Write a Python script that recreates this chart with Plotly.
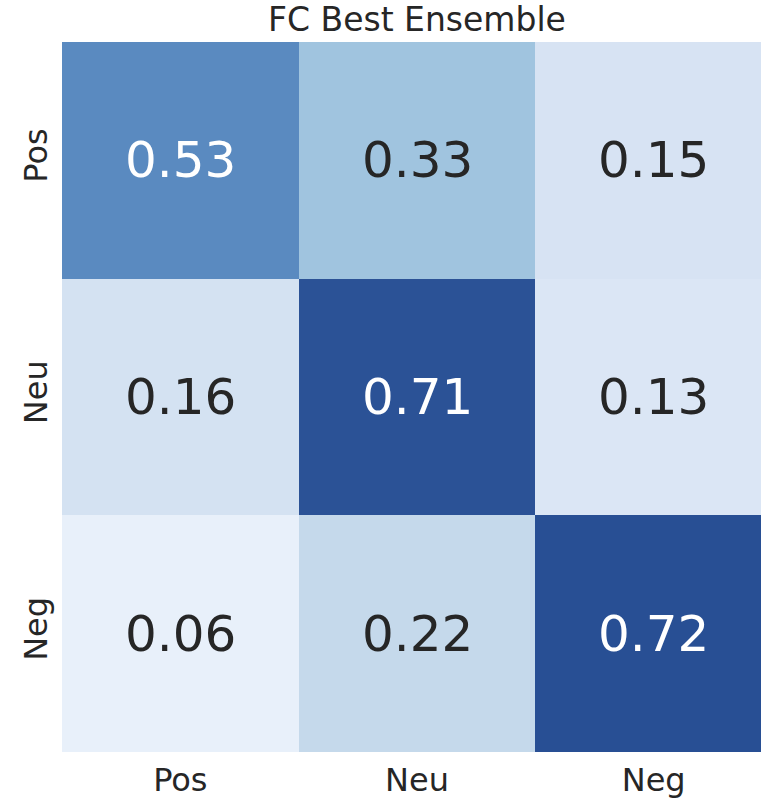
import plotly.graph_objects as go

labels = ["Pos", "Neu", "Neg"]
values = [
    [0.53, 0.33, 0.15],
    [0.16, 0.71, 0.13],
    [0.06, 0.22, 0.72],
]
title = "FC Best Ensemble"

zmin, zmax = 0.06, 0.72
stops = [(0.06, "#e8f0fa"), (0.15, "#d7e3f3"), (0.22, "#c5d9eb"),
         (0.33, "#a0c4df"), (0.53, "#5a8ac0"), (0.72, "#284f94")]
colorscale = [[(v - zmin) / (zmax - zmin), c] for v, c in stops]

FONT = "DejaVu Sans"

fig = go.Figure(go.Heatmap(
    z=values, x=labels, y=labels,
    colorscale=colorscale, zmin=zmin, zmax=zmax,
    showscale=False, xgap=0, ygap=0, hoverinfo="skip",
))

for i, row in enumerate(values):
    for j, v in enumerate(row):
        fig.add_annotation(
            x=labels[j], y=labels[i], text=f"{v:.2f}", showarrow=False,
            font=dict(family=FONT, size=50, color="white" if v > 0.45 else "#262626"),
        )

W, H = 761, 800
left, top, bottom = 62, 42, 48
cell = (H - top - bottom) / 3.0
xr_end = -0.5 + (W - left) / cell

fig.add_annotation(
    xref="paper", yref="paper",
    x=(3 * cell / 2) / (W - left), y=1 + (top - 19) / (H - top - bottom),
    text=title, showarrow=False, xanchor="center", yanchor="middle",
    font=dict(family=FONT, size=33, color="#262626"),
)

fig.update_layout(
    template="none",
    width=W, height=H, autosize=False,
    margin=dict(l=left, r=0, t=top, b=bottom, pad=0),
    paper_bgcolor="white", plot_bgcolor="white",
    font=dict(family=FONT, color="#262626"),
    xaxis=dict(range=[-0.5, xr_end], showgrid=False, zeroline=False, ticks="",
               automargin=False, ticklabelstandoff=6,
               tickfont=dict(size=32, family=FONT, color="#262626"), showline=False),
    yaxis=dict(range=[2.5, -0.5], showgrid=False, zeroline=False, ticks="",
               automargin=False, ticklabelstandoff=8,
               tickangle=-90, tickfont=dict(size=32, family=FONT, color="#262626"),
               showline=False),
)

fig.write_html("out.html",
               config={"displayModeBar": False, "staticPlot": True},
               post_script="document.body.style.margin='0';document.body.style.overflow='hidden';")
